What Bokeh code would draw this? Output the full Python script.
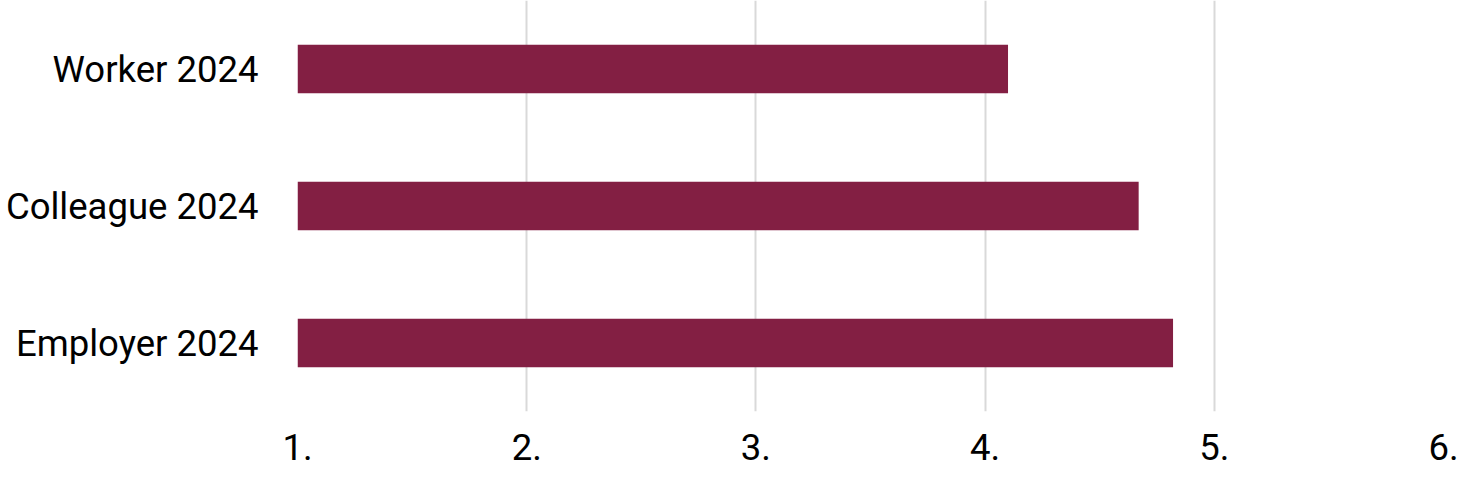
from bokeh.plotting import figure
from bokeh.models import ColumnDataSource, FixedTicker, Range1d, FactorRange
from bokeh.embed import file_html
from bokeh.resources import INLINE

categories = ["Employer 2024", "Colleague 2024", "Worker 2024"]
values = [4.82, 4.67, 4.10]
x_ticks = [1, 2, 3, 4, 5, 6]
x_tick_labels = ["1.", "2.", "3.", "4.", "5.", "6."]
bar_base = 1

source = ColumnDataSource(dict(cat=categories, right=values,
                               left=[bar_base] * len(values)))

FONT = "Roboto"
FONT_SIZE = "36.5px"

p = figure(width=1459, height=471, output_backend="svg", toolbar_location=None,
           x_range=Range1d(1, 6), y_range=FactorRange(factors=categories),
           min_border_left=297, min_border_right=16, min_border_top=0,
           min_border_bottom=60)
p.hbar(y="cat", left="left", right="right", height=0.355, source=source,
       fill_color="#831f43", line_color=None)

p.outline_line_color = None
p.background_fill_color = "white"
p.border_fill_color = "white"

p.xgrid.ticker = FixedTicker(ticks=x_ticks)
p.xgrid.grid_line_color = "#d9d9d9"
p.xgrid.grid_line_width = 2
p.ygrid.grid_line_color = None

p.xaxis.ticker = FixedTicker(ticks=x_ticks)
p.xaxis.major_label_overrides = {t: l for t, l in zip(x_ticks, x_tick_labels)}

for ax in (p.xaxis[0], p.yaxis[0]):
    ax.axis_line_color = None
    ax.major_tick_line_color = None
    ax.minor_tick_line_color = None
    ax.major_tick_out = 0
    ax.major_tick_in = 0
    ax.major_label_text_font = FONT
    ax.major_label_text_font_size = FONT_SIZE
    ax.major_label_text_color = "black"

p.xaxis.major_label_standoff = 22
p.yaxis.major_label_standoff = 39

open("out.html", "w").write(file_html(p, INLINE))
